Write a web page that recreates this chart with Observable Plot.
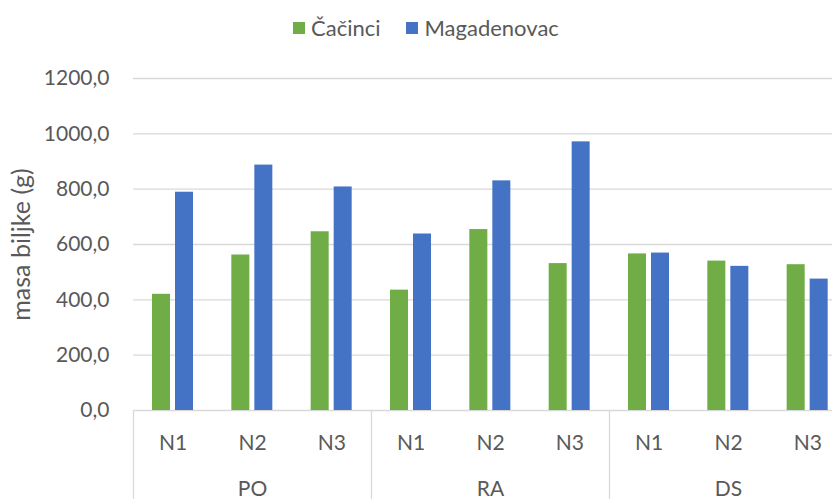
<!DOCTYPE html>
<html>
<head>
<meta charset="utf-8">
<script src="https://cdn.jsdelivr.net/npm/d3@7"></script>
<script src="https://cdn.jsdelivr.net/npm/@observablehq/plot@0.6"></script>
<style>
  html, body { margin: 0; padding: 0; background: #fff; }
  #wrap { width: 832px; height: 499px; overflow: hidden; position: relative; font-family: Lato, sans-serif; color: #595959; }
  #legend { height: 55px; display: flex; align-items: center; padding-left: 293px; box-sizing: border-box; font-size: 22px; }
  .item { display: flex; align-items: center; }
  .sw { width: 12px; height: 12px; display: inline-block; margin-right: 6px; }
  .gap { width: 26px; }
</style>
</head>
<body>
<div id="wrap">
  <div id="legend"></div>
  <div id="chart"></div>
</div>
<script>
const groups = ["PO", "RA", "DS"];
const levels = ["N1", "N2", "N3"];
const seriesNames = ["Čačinci", "Magadenovac"];
const seriesColors = ["#70AD47", "#4472C4"];
// values in order PO N1..N3, RA N1..N3, DS N1..N3
const cacinci = [420, 562, 646, 435, 654, 531, 566, 540, 527];
const magadenovac = [789, 887, 808, 638, 830, 971, 569, 521, 475];
const yTicks = [0, 200, 400, 600, 800, 1000, 1200];

const keys = [];
const labelRows = [];
groups.forEach(g => levels.forEach(l => { keys.push(g + " " + l); labelRows.push({key: g + " " + l, level: l}); }));
const rowsC = keys.map((k, i) => ({key: k, value: cacinci[i]}));
const rowsM = keys.map((k, i) => ({key: k, value: magadenovac[i]}));
const groupRows = groups.map(g => ({key: g + " " + levels[1], label: g}));
const sepRows = groups.map(g => g + " " + levels[0]);

// legend
const legend = document.getElementById("legend");
seriesNames.forEach((n, i) => {
  if (i > 0) { const gp = document.createElement("span"); gp.className = "gap"; legend.appendChild(gp); }
  const it = document.createElement("span"); it.className = "item";
  const sw = document.createElement("span"); sw.className = "sw"; sw.style.background = seriesColors[i];
  const tx = document.createElement("span"); tx.textContent = n;
  it.appendChild(sw); it.appendChild(tx); legend.appendChild(it);
});

const fmt = d => d3.format(".1f")(d).replace(".", ",");
const step = (847 - 133) / keys.length;

const chart = Plot.plot({
  width: 832,
  height: 444,
  marginTop: 23,
  marginBottom: 89,
  marginLeft: 133,
  marginRight: 0,
  x: {type: "band", domain: keys, range: [133, 847], padding: 0, round: false, axis: null},
  y: {domain: [0, 1200], axis: null},
  style: {fontFamily: "Lato, sans-serif", fontSize: "21px", color: "#595959", background: "white", overflow: "hidden"},
  marks: [
    Plot.gridY(yTicks, {stroke: "#d9d9d9", strokeOpacity: 1, strokeWidth: 1.3}),
    Plot.axisY(yTicks, {tickSize: 0, tickPadding: 24, tickFormat: fmt, label: null, fill: "#595959"}),
    Plot.barY(rowsC, {x: "key", y: "value", fill: seriesColors[0], insetLeft: 19, insetRight: 42.33}),
    Plot.barY(rowsM, {x: "key", y: "value", fill: seriesColors[1], insetLeft: 42, insetRight: 19.33}),
    Plot.ruleX(sepRows, {x: d => d, dx: -step / 2, stroke: "#d9d9d9", strokeWidth: 1.3, insetTop: 332, insetBottom: -89}),
    Plot.text(labelRows, {x: "key", text: "level", frameAnchor: "bottom", lineAnchor: "bottom", dy: 39, fill: "#595959"}),
    Plot.text(groupRows, {x: "key", text: "label", frameAnchor: "bottom", lineAnchor: "bottom", dy: 85, fill: "#595959"}),
    Plot.text(["masa biljke (g)"], {frameAnchor: "left", rotate: -90, dx: -112, textAnchor: "middle", fill: "#595959", fontSize: 25})
  ]
});
document.getElementById("chart").appendChild(chart);
</script>
</body>
</html>
